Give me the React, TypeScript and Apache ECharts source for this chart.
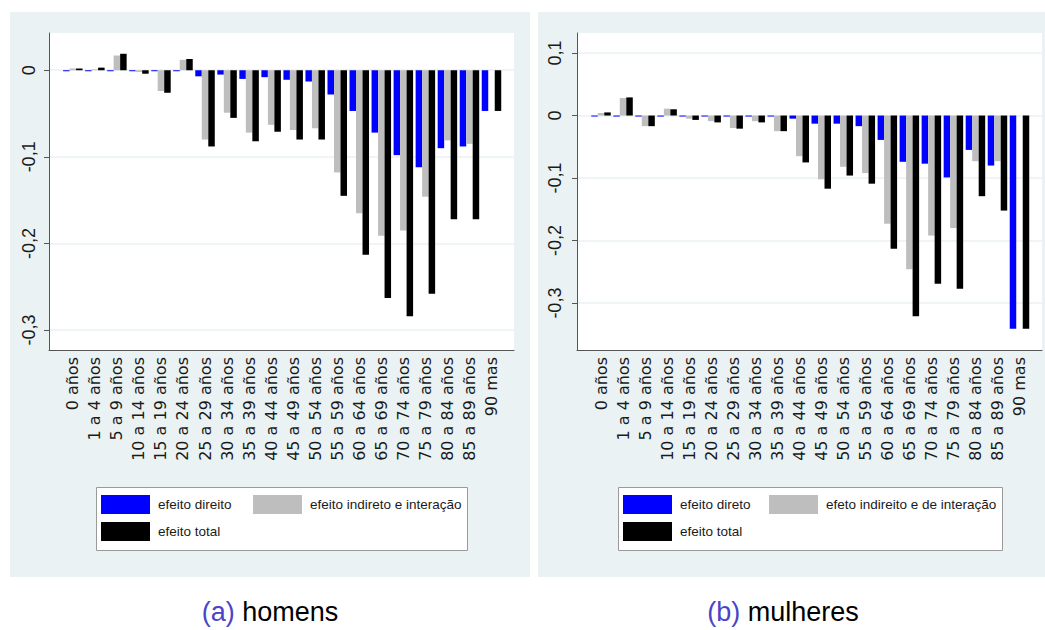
import React, { useEffect, useRef } from 'react';
import * as echarts from 'echarts';

const categories = ['0 años', '1 a 4 años', '5 a 9 años', '10 a 14 años', '15 a 19 años', '20 a 24 años', '25 a 29 años', '30 a 34 años', '35 a 39 años', '40 a 44 años', '45 a 49 años', '50 a 54 años', '55 a 59 años', '60 a 64 años', '65 a 69 años', '70 a 74 años', '75 a 79 años', '80 a 84 años', '85 a 89 años', '90 mas'];

const menDirect = [-0.001, -0.001, -0.001, -0.001, -0.001, -0.001, -0.007, -0.005, -0.010, -0.008, -0.011, -0.013, -0.028, -0.047, -0.072, -0.098, -0.112, -0.090, -0.088, -0.047];
const menIndirect = [0.002, 0.001, 0.017, -0.002, -0.024, 0.012, -0.080, -0.049, -0.072, -0.063, -0.069, -0.067, -0.118, -0.165, -0.191, -0.185, -0.146, -0.081, -0.085, 0];
const menTotal = [0.002, 0.003, 0.019, -0.004, -0.026, 0.013, -0.088, -0.055, -0.082, -0.071, -0.080, -0.080, -0.145, -0.213, -0.263, -0.284, -0.258, -0.172, -0.172, -0.047];

const womenDirect = [-0.001, -0.001, -0.001, -0.001, -0.001, -0.001, -0.001, -0.001, -0.001, -0.005, -0.013, -0.013, -0.017, -0.039, -0.074, -0.077, -0.099, -0.055, -0.080, -0.341];
const womenIndirect = [0.004, 0.028, -0.017, 0.011, -0.005, -0.009, -0.020, -0.009, -0.025, -0.065, -0.102, -0.082, -0.092, -0.173, -0.246, -0.192, -0.180, -0.073, -0.073, 0];
const womenTotal = [0.005, 0.029, -0.017, 0.010, -0.007, -0.011, -0.021, -0.011, -0.025, -0.075, -0.117, -0.096, -0.109, -0.213, -0.321, -0.269, -0.277, -0.129, -0.152, -0.341];

const menTicks = [-0.3, -0.2, -0.1, 0];
const womenTicks = [-0.3, -0.2, -0.1, 0, 0.1];
const menRange = [-0.323, 0.043];
const womenRange = [-0.375, 0.132];

const menLegend = ['efeito direito', 'efeito indireto e interação', 'efeito total'];
const womenLegend = ['efeito direto', 'efeto indireito e de interação', 'efeito total'];

const captionLetters = ['(a)', '(b)'];
const captionWords = ['homens', 'mulheres'];

const BLUE = '#0000ff';
const GRAY = '#bebebe';
const BLACK = '#000000';
const BG = '#eaf2f3';
const AXIS = '#555555';
const TEXT = '#1a1a1a';

function fmt(v: number): string {
  if (Math.abs(v) < 1e-9) return '0';
  return v.toFixed(1).replace('.', ',');
}

type Panel = {
  frameLeft: number;
  frameRight: number;
  bandLeft: number;
  bandRight: number;
  yLabelMargin: number;
  range: number[];
  ticks: number[];
  names: string[];
  direct: number[];
  indirect: number[];
  total: number[];
  legendLeftA: number;
  legendLeftB: number;
};

const TOP = 33;
const BOTTOM = 350;

function buildPanel(p: Panel, k: number) {
  const fi = k * 2;
  const bi = k * 2 + 1;
  const grids = [
    {
      left: p.frameLeft,
      top: TOP,
      width: p.frameRight - p.frameLeft,
      height: BOTTOM - TOP,
      show: true,
      backgroundColor: '#ffffff',
      borderWidth: 0,
      containLabel: false,
    },
    {
      left: p.bandLeft,
      top: TOP,
      width: p.bandRight - p.bandLeft,
      height: BOTTOM - TOP,
      show: false,
      containLabel: false,
    },
  ];
  const xAxes = [
    {
      gridIndex: fi,
      type: 'value',
      min: 0,
      max: 1,
      axisLine: { show: true, onZero: false, lineStyle: { color: AXIS, width: 1 } },
      axisTick: { show: false },
      axisLabel: { show: false },
      splitLine: { show: false },
    },
    {
      gridIndex: bi,
      type: 'category',
      data: categories,
      axisLine: { show: false, onZero: false },
      axisTick: { show: false },
      splitLine: { show: false },
      axisLabel: {
        show: true,
        interval: 0,
        rotate: 90,
        margin: 7,
        fontFamily: 'DejaVu Sans',
        fontSize: 16,
        color: TEXT,
      },
    },
  ];
  const yAxes = [
    {
      gridIndex: fi,
      type: 'value',
      min: p.range[0],
      max: p.range[1],
      axisLine: { show: true, onZero: false, lineStyle: { color: AXIS, width: 1 } },
      axisTick: { show: true, length: 5, customValues: p.ticks, lineStyle: { color: AXIS } },
      axisLabel: {
        show: true,
        customValues: p.ticks,
        rotate: 90,
        margin: p.yLabelMargin,
        fontFamily: 'Liberation Sans',
        fontSize: 18,
        color: TEXT,
        formatter: (v: number) => fmt(v),
      },
      splitLine: { show: true, lineStyle: { color: BG, width: 1.5 } },
    },
    {
      gridIndex: bi,
      type: 'value',
      min: p.range[0],
      max: p.range[1],
      show: false,
      splitLine: { show: false },
    },
  ];
  const common = { type: 'bar', xAxisIndex: bi, yAxisIndex: bi, barWidth: 6.5, barGap: '0%' };
  const series = [
    { ...common, name: p.names[0], data: p.direct, itemStyle: { color: BLUE }, barMinHeight: 1 },
    { ...common, name: p.names[1], data: p.indirect, itemStyle: { color: GRAY } },
    { ...common, name: p.names[2], data: p.total, itemStyle: { color: BLACK } },
  ];
  const legendBase = {
    orient: 'vertical',
    top: 495,
    itemWidth: 49,
    itemHeight: 19,
    itemGap: 8,
    padding: 0,
    icon: 'rect',
    selectedMode: false,
    textStyle: { fontFamily: 'Liberation Sans', fontSize: 13.5, color: TEXT, padding: [0, 0, 0, 3] },
  };
  const legends = [
    { ...legendBase, left: p.legendLeftA, data: [p.names[0], p.names[2]] },
    { ...legendBase, left: p.legendLeftB, data: [p.names[1]] },
  ];
  return { grids, xAxes, yAxes, series, legends };
}

export default function App() {
  const ref = useRef<HTMLDivElement>(null);
  useEffect(() => {
    if (!ref.current) return;
    const chart = echarts.init(ref.current, undefined, { renderer: 'svg' });
    const left = buildPanel(
      {
        frameLeft: 49,
        frameRight: 514,
        bandLeft: 61.8,
        bandRight: 502.5,
        yLabelMargin: 11,
        range: menRange,
        ticks: menTicks,
        names: menLegend,
        direct: menDirect,
        indirect: menIndirect,
        total: menTotal,
        legendLeftA: 101,
        legendLeftB: 253,
      },
      0
    );
    const right = buildPanel(
      {
        frameLeft: 577,
        frameRight: 1042,
        bandLeft: 590,
        bandRight: 1030.5,
        yLabelMargin: 13,
        range: womenRange,
        ticks: womenTicks,
        names: womenLegend,
        direct: womenDirect,
        indirect: womenIndirect,
        total: womenTotal,
        legendLeftA: 623,
        legendLeftB: 769,
      },
      1
    );
    const captionStyle = (i: number, x: number) => ({
      type: 'text',
      x,
      y: 612,
      z: 10,
      style: {
        text: '{l|' + captionLetters[i] + '} ' + captionWords[i],
        fontFamily: 'Liberation Sans',
        fontSize: 27,
        fill: '#000000',
        align: 'center',
        verticalAlign: 'middle',
        rich: { l: { fill: '#4b44c8', fontFamily: 'Liberation Sans', fontSize: 27 } },
      },
    });
    const option: any = {
      animation: false,
      backgroundColor: '#ffffff',
      grid: [...left.grids, ...right.grids],
      xAxis: [...left.xAxes, ...right.xAxes],
      yAxis: [...left.yAxes, ...right.yAxes],
      series: [...left.series, ...right.series],
      legend: [...left.legends, ...right.legends],
      graphic: {
        elements: [
          { type: 'rect', z: -100, silent: true, shape: { x: 10, y: 12, width: 520, height: 565 }, style: { fill: BG } },
          { type: 'rect', z: -100, silent: true, shape: { x: 538, y: 12, width: 507, height: 565 }, style: { fill: BG } },
          { type: 'rect', z: 1, silent: true, shape: { x: 96.5, y: 487.5, width: 371, height: 63 }, style: { fill: '#ffffff', stroke: '#9a9a9a', lineWidth: 1 } },
          { type: 'rect', z: 1, silent: true, shape: { x: 618.5, y: 487.5, width: 384, height: 63 }, style: { fill: '#ffffff', stroke: '#9a9a9a', lineWidth: 1 } },
          captionStyle(0, 270),
          captionStyle(1, 783),
        ],
      },
    };
    chart.setOption(option);
    return () => chart.dispose();
  }, []);
  return <div ref={ref} style={{ position: 'absolute', left: 0, top: 0, width: 1045, height: 630 }} />;
}
